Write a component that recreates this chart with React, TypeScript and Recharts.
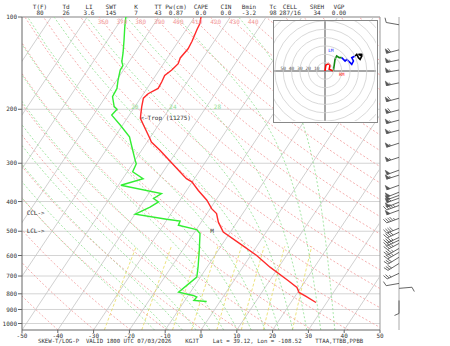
import React from "react"
import { ComposedChart, Line, XAxis, YAxis, ReferenceLine, ReferenceDot, Scatter } from "recharts"

// skew-T geometry
const P_TOP = 100
const P_BOT = 1050
const SKEW = 57 // deg C shift per decade of pressure

// temperature profile (hPa, deg C)
const tPres = [100, 105, 110, 120, 127, 136, 142, 149, 155, 163, 171, 178, 184, 196, 206, 214, 225, 249, 256, 272, 291, 320, 337, 345, 368, 396, 422, 438, 467, 503, 549, 600, 655, 724, 763, 792, 816, 854]
const tVal = [-58.2, -57.3, -57.0, -56.2, -55.9, -56.4, -55.9, -56.5, -57.5, -57.1, -56.9, -58.7, -59.2, -58.1, -57.1, -56.3, -54.2, -49.9, -48.8, -44.9, -40.9, -35.3, -32.2, -30.1, -26.7, -22.5, -19.6, -17.3, -15.2, -12.0, -5.2, 1.7, 7.6, 15.1, 18.9, 20.4, 23.1, 27.0]

// dewpoint profile (hPa, deg C)
const dPres = [100, 108, 119, 131, 140, 144, 149, 161, 171, 182, 196, 200, 209, 225, 246, 265, 293, 301, 320, 337, 354, 377, 391, 401, 417, 440, 457, 463, 478, 494, 509, 577, 655, 706, 790, 810, 820, 841, 848]
const dVal = [-79.2, -77.6, -75.4, -73.3, -72.0, -71.0, -70.9, -69.6, -68.4, -68.1, -65.8, -64.5, -64.9, -60.7, -55.9, -53.4, -50.0, -49.0, -48.5, -44.3, -49.3, -36.4, -37.7, -35.7, -37.1, -39.9, -30.2, -26.1, -25.8, -19.9, -18.2, -15.3, -12.5, -11.0, -13.3, -8.6, -7.3, -7.5, -3.7]

// background lines
const isobars = [100, 200, 300, 400, 500, 600, 700, 800, 900, 1000]
const xTicks = [-50, -40, -30, -20, -10, 0, 10, 20, 30, 40, 50]
const isotherms = [-150, -140, -130, -120, -110, -100, -90, -80, -70, -60, -50, -40, -30, -20, -10, 0, 10, 20, 30, 40, 50]
const thetas = [220, 230, 240, 250, 260, 270, 280, 290, 300, 310, 320, 330, 340, 350, 360, 370, 380, 390, 400, 410, 420, 430, 440, 450, 460, 470, 480, 490, 500, 510]
const thetaLabels = [360, 370, 380, 390, 400, 410, 420, 430, 440]
const thetaW = [-16, -12, -8, -4, 0, 4, 8, 12, 16, 20, 24, 28, 32, 36]
const thetaWLabels = [20, 24, 28]
const mixRatios = [0.4, 1, 2, 3, 5, 8, 12, 20]

// annotations
const tropPres = 214
const tropHeight = 11275
const cclPres = 437
const lclPres = 497

// header / footer
const headerKeys = ["T(F)", "Td", "LI", "SWT", "K", "TT", "Pw(cm)", "CAPE", "CIN", "Bmin", "Tc", "CELL", "SREH", "VGP"]
const headerVals = ["80", "26", "3.6", "145", "7", "43", "0.87", "0.0", "0.0", "-3.2", "98", "287/16", "34", "0.00"]
const footer = "SKEW-T/LOG-P  VALID 1800 UTC 07/03/2026    KGJT    Lat = 39.12, Lon = -108.52    TTAA,TTBB,PPBB"

// winds (hPa, direction deg, speed kt)
const windPres = [106, 128, 138, 149, 164, 184, 201, 217, 234, 258, 287, 316, 328, 354, 373, 382, 390, 402, 412, 427, 454, 489, 504, 524, 535, 548, 569, 586, 608, 637, 686, 740, 768, 841]
const windDir = [280, 255, 258, 260, 258, 255, 255, 255, 255, 252, 252, 250, 252, 250, 248, 250, 250, 248, 250, 250, 250, 248, 245, 245, 245, 242, 240, 240, 238, 238, 245, 260, 85, 180]
const windSpd = [10, 60, 55, 55, 55, 60, 60, 55, 55, 55, 55, 50, 55, 50, 50, 50, 55, 50, 45, 50, 45, 40, 40, 35, 40, 35, 35, 35, 30, 30, 25, 10, 10, 10]

// hodograph (kt)
const hodoRedU = [0, 1, 4, 6, 5, 10]
const hodoRedV = [0, 7, 9, 7, 2, 0]
const hodoGreenU = [10, 12, 14, 17, 20]
const hodoGreenV = [0, 14, 18, 16, 16]
const hodoBlueU = [20, 24, 26, 30, 32, 34, 32, 36]
const hodoBlueV = [16, 12, 14, 10, 8, 12, 16, 18]
const hodoBlackU = [36, 38, 40, 42, 44, 40, 45]
const hodoBlackV = [18, 20, 16, 14, 18, 20, 20]
const hodoRings = [10, 20, 30, 40, 50, 60, 70, 80]
const hodoRingLabels = [50, 40, 30, 20, 10]
const leftMover = { u: 7, v: 25 }
const rightMover = { u: 20, v: -4 }

const skewX = (t: number, p: number) => t + SKEW * Math.log10(P_BOT / p)

const gridPres: number[] = []
for (let p = P_BOT; p >= P_TOP; p -= 25) gridPres.push(p)

const dryT = (theta: number, p: number) => theta * Math.pow(p / 1000, 0.2857) - 273.15

const moistRate = (T: number, p: number) => {
  const es = 6.112 * Math.exp((17.67 * (T - 273.15)) / (T - 29.65))
  const rs = (0.622 * es) / (p - es)
  return (287.04 * T + 2.501e6 * rs) / (1005.7 + (2.501e6 * 2.501e6 * rs * 0.622) / (287.04 * T * T))
}

const moistT = (tw: number, p: number) => {
  let T = tw + 273.15
  let pc = 1000
  const n = 60
  const d = Math.log(p / 1000) / n
  for (let i = 0; i < n; i++) {
    const k1 = moistRate(T, pc)
    const k2 = moistRate(T + (k1 * d) / 2, pc * Math.exp(d / 2))
    T += k2 * d
    pc *= Math.exp(d)
  }
  return T - 273.15
}

const mixTd = (w: number, p: number) => {
  const e = (w * p) / (622 + w)
  const l = Math.log(e / 6.112)
  return (243.5 * l) / (17.67 - l)
}

const tempData = tPres.map((p, i) => ({ x: skewX(tVal[i], p), p }))
const dewData = dPres.map((p, i) => ({ x: skewX(dVal[i], p), p }))

const windData = windPres.map((p, i) => ({ x: 0, p, dir: windDir[i], spd: windSpd[i] }))

const zip = (u: number[], v: number[]) => u.map((val, i) => ({ u: val, v: v[i] }))

const font = "'DejaVu Sans Mono', monospace"

const Barb = (props: any) => {
  const { cx, cy, payload } = props
  if (cx == null || cy == null) return null
  const rad = (payload.dir * Math.PI) / 180
  const sx = Math.sin(rad)
  const sy = -Math.cos(rad)
  const fx = -sy
  const fy = sx
  const L = 13
  const h = 4.5
  const parts: React.ReactNode[] = []
  let px = cx + sx * L
  let py = cy + sy * L
  let spd = Math.round(payload.spd / 5) * 5
  let k = 0
  while (spd >= 50) {
    const bx = px - sx * 3.5
    const by = py - sy * 3.5
    parts.push(<polygon key={k++} points={`${px},${py} ${bx},${by} ${px + fx * h},${py + fy * h}`} fill="#555" stroke="#555" strokeWidth={0.6} />)
    px = bx - sx * 1
    py = by - sy * 1
    spd -= 50
  }
  while (spd >= 10) {
    parts.push(<line key={k++} x1={px} y1={py} x2={px + fx * h + sx * 2} y2={py + fy * h + sy * 2} stroke="#555" strokeWidth={0.9} />)
    px -= sx * 2.2
    py -= sy * 2.2
    spd -= 10
  }
  if (spd >= 5) {
    parts.push(<line key={k++} x1={px} y1={py} x2={px + fx * h * 0.5 + sx} y2={py + fy * h * 0.5 + sy} stroke="#555" strokeWidth={0.9} />)
  }
  return (
    <g>
      <line x1={cx} y1={cy} x2={cx + sx * L} y2={cy + sy * L} stroke="#555" strokeWidth={0.9} />
      {parts}
    </g>
  )
}

const textStyle: React.CSSProperties = {
  position: "absolute",
  fontFamily: font,
  fontSize: 6,
  color: "#333",
  whiteSpace: "pre",
  lineHeight: "6px",
}

const headerX = [40, 66, 89, 111, 136, 158, 176, 201, 226, 249, 273, 290, 317, 339]

export default function App() {
  const hodoW = 102
  const hodoH = 100
  const hodoU = 61
  const hodoV = 60
  const pxPerKt = hodoW / (2 * hodoU)

  return (
    <div style={{ position: "absolute", left: 0, top: 0, width: 450, height: 346, background: "#fff", overflow: "hidden" }}>
      <ComposedChart width={450} height={346} margin={{ top: 17, right: 70, left: 0, bottom: 0 }}>
        <XAxis
          type="number"
          dataKey="x"
          domain={[-50, 50]}
          ticks={xTicks}
          allowDataOverflow
          height={16}
          tickSize={3}
          tickMargin={1}
          interval={0}
          stroke="#666"
          tick={{ fontSize: 6, fill: "#333", fontFamily: font }}
        />
        <YAxis
          type="number"
          dataKey="p"
          scale="log"
          domain={[P_TOP, P_BOT]}
          reversed
          allowDataOverflow
          ticks={isobars}
          interval={0}
          width={22}
          tickSize={4}
          tickMargin={1}
          stroke="#666"
          tick={{ fontSize: 6, fill: "#333", fontFamily: font }}
        />
        {isobars.map((p) => (
          <ReferenceLine key={"ib" + p} y={p} stroke="#d4d4d4" strokeWidth={1} />
        ))}
        <ReferenceLine x={50} stroke="#999" />
        <ReferenceLine y={P_TOP} stroke="#999" />
        {isotherms.map((t) => (
          <Line
            key={"it" + t}
            data={[
              { x: skewX(t, P_BOT), p: P_BOT },
              { x: skewX(t, P_TOP), p: P_TOP },
            ]}
            dataKey="p"
            stroke="#c4c4c4"
            strokeWidth={0.8}
            dot={false}
            activeDot={false}
            isAnimationActive={false}
          />
        ))}
        {mixRatios.map((w) => (
          <Line
            key={"mr" + w}
            data={[1050, 1000, 900, 800, 700, 600, 560].map((p) => ({ x: skewX(mixTd(w, p), p), p }))}
            dataKey="p"
            stroke="#e8dc60"
            strokeWidth={0.8}
            strokeDasharray="3 2"
            dot={false}
            activeDot={false}
            isAnimationActive={false}
          />
        ))}
        {thetaW.map((tw) => (
          <Line
            key={"ma" + tw}
            data={gridPres.map((p) => ({ x: skewX(moistT(tw, p), p), p }))}
            dataKey="p"
            stroke="#8fe08f"
            strokeWidth={0.8}
            strokeDasharray="2 2"
            dot={false}
            activeDot={false}
            isAnimationActive={false}
          />
        ))}
        {thetas.map((th) => (
          <Line
            key={"da" + th}
            data={gridPres.map((p) => ({ x: skewX(dryT(th, p), p), p }))}
            dataKey="p"
            stroke="#f29a9a"
            strokeWidth={0.8}
            strokeDasharray="2 2"
            dot={false}
            activeDot={false}
            isAnimationActive={false}
          />
        ))}
        {thetaLabels.map((th) => (
          <ReferenceDot
            key={"dl" + th}
            x={skewX(dryT(th, 104), 104)}
            y={104}
            r={0}
            label={{ value: String(th), fill: "#f29a9a", fontSize: 6, fontFamily: font }}
          />
        ))}
        {thetaWLabels.map((tw) => (
          <ReferenceDot
            key={"ml" + tw}
            x={skewX(moistT(tw, 196), 196) + 2.5}
            y={196}
            r={0}
            label={{ value: String(tw), fill: "#8fe08f", fontSize: 6, fontFamily: font }}
          />
        ))}
        <Line data={dewData} dataKey="p" stroke="#33ee33" strokeWidth={1.4} dot={false} activeDot={false} isAnimationActive={false} />
        <Line data={tempData} dataKey="p" stroke="#ff2a2a" strokeWidth={1.4} dot={false} activeDot={false} isAnimationActive={false} />
        <ReferenceDot
          x={skewX(-56.3, tropPres)}
          y={tropPres}
          r={0}
          label={{ value: `<-Trop (${tropHeight})`, position: "right", offset: 0, fill: "#333", fontSize: 6, fontFamily: font }}
        />
        <ReferenceDot x={-48.7} y={cclPres} r={0} label={{ value: "CCL->", position: "right", offset: 0, fill: "#333", fontSize: 6, fontFamily: font }} />
        <ReferenceDot x={-48.7} y={lclPres} r={0} label={{ value: "LCL->", position: "right", offset: 0, fill: "#333", fontSize: 6, fontFamily: font }} />
        <ReferenceDot x={3.1} y={lclPres} r={0} label={{ value: "M", fill: "#444", fontSize: 6, fontFamily: font }} />
      </ComposedChart>

      <div style={{ position: "absolute", left: 380, top: 0 }}>
        <ComposedChart width={38} height={346} margin={{ top: 17, right: 0, left: 0, bottom: 16 }}>
          <XAxis type="number" dataKey="x" domain={[-1, 1]} hide />
          <YAxis type="number" dataKey="p" scale="log" domain={[P_TOP, P_BOT]} reversed hide />
          <ReferenceLine x={0} stroke="#aaa" />
          <Scatter data={windData} shape={(props: any) => <Barb {...props} />} isAnimationActive={false} />
        </ComposedChart>
      </div>

      <div
        style={{
          position: "absolute",
          left: 273,
          top: 20,
          width: hodoW + 3,
          height: hodoH + 3,
          border: "1.5px solid #888",
          boxSizing: "border-box",
          background: "#fff",
          overflow: "hidden",
        }}
      >
        <ComposedChart width={hodoW} height={hodoH} margin={{ top: 0, right: 0, left: 0, bottom: 0 }}>
          <XAxis type="number" dataKey="u" domain={[-hodoU, hodoU]} hide allowDataOverflow />
          <YAxis type="number" dataKey="v" domain={[-hodoV, hodoV]} hide allowDataOverflow />
          {hodoRings.map((r) => (
            <ReferenceDot key={"hr" + r} x={0} y={0} r={r * pxPerKt} fill="none" stroke="#cfcfcf" strokeWidth={0.8} />
          ))}
          <ReferenceLine x={0} stroke="#888" strokeWidth={1.5} />
          <ReferenceLine y={0} stroke="#888" strokeWidth={1.5} />
          {hodoRingLabels.map((r) => (
            <ReferenceDot
              key={"hl" + r}
              x={-r}
              y={0}
              r={0}
              label={{ value: String(r), position: "top", offset: 1, fill: "#555", fontSize: 4.5, fontFamily: font }}
            />
          ))}
          <Line data={zip(hodoRedU, hodoRedV)} dataKey="v" stroke="#ff0000" strokeWidth={1.6} dot={false} activeDot={false} isAnimationActive={false} />
          <Line data={zip(hodoGreenU, hodoGreenV)} dataKey="v" stroke="#118811" strokeWidth={1.6} dot={false} activeDot={false} isAnimationActive={false} />
          <Line data={zip(hodoBlueU, hodoBlueV)} dataKey="v" stroke="#0000ff" strokeWidth={1.6} dot={false} activeDot={false} isAnimationActive={false} />
          <Line data={zip(hodoBlackU, hodoBlackV)} dataKey="v" stroke="#000" strokeWidth={1.6} dot={false} activeDot={false} isAnimationActive={false} />
          <ReferenceDot x={leftMover.u} y={leftMover.v} r={0} label={{ value: "LM", fill: "#0000ff", fontSize: 4.5, fontFamily: font }} />
          <ReferenceDot x={rightMover.u} y={rightMover.v} r={0} label={{ value: "RM", fill: "#ff0000", fontSize: 4.5, fontFamily: font }} />
        </ComposedChart>
      </div>

      {headerKeys.map((k, i) => (
        <div key={"hk" + k} style={{ ...textStyle, left: headerX[i], top: 4, transform: "translateX(-50%)" }}>
          {k}
        </div>
      ))}
      {headerVals.map((v, i) => (
        <div key={"hv" + i} style={{ ...textStyle, left: headerX[i], top: 10, transform: "translateX(-50%)" }}>
          {v}
        </div>
      ))}
      <div style={{ ...textStyle, left: 38, top: 338, fontSize: 5.7 }}>{footer}</div>
    </div>
  )
}
